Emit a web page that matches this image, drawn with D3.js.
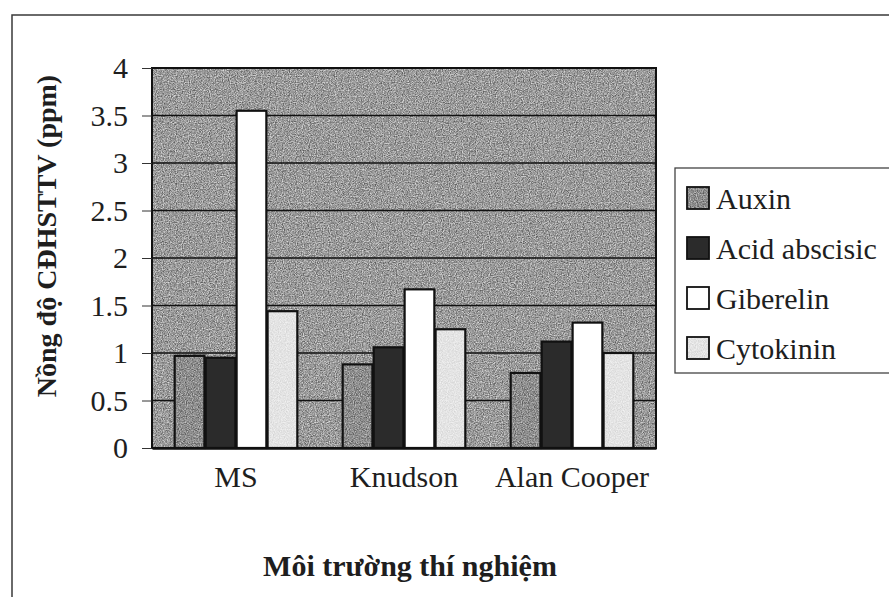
<!DOCTYPE html>
<html>
<head>
<meta charset="utf-8">
<script src="https://cdn.jsdelivr.net/npm/d3@7"></script>
<style>
  body { margin: 0; background: #fff; }
  svg { display: block; }
</style>
</head>
<body>
<div id="chart"></div>
<script>
// Data
const categories = ["MS", "Knudson", "Alan Cooper"];
const seriesNames = ["Auxin", "Acid abscisic", "Giberelin", "Cytokinin"];
const auxin = [0.97, 0.88, 0.79];
const acidAbscisic = [0.95, 1.06, 1.12];
const giberelin = [3.55, 1.67, 1.32];
const cytokinin = [1.44, 1.25, 1.00];
const yTicks = [0, 0.5, 1, 1.5, 2, 2.5, 3, 3.5, 4];

const seriesValues = [auxin, acidAbscisic, giberelin, cytokinin];
const fills = ["#979797", "#2b2b2b", "#ffffff", "#f1f1f1"];
const grains = ["grainStrong", null, null, "grainLight"];

const width = 889, height = 597;
const plot = { left: 152, right: 656, top: 68, bottom: 448 };
const font = "'Liberation Serif', 'Nimbus Roman', 'DejaVu Serif', serif";

const svg = d3.select("#chart").append("svg")
  .attr("width", width)
  .attr("height", height);

// noise filters to imitate the scanned stipple
const defs = svg.append("defs");
function grainFilter(id, amount, seed) {
  const f = defs.append("filter")
    .attr("id", id)
    .attr("x", -0.2).attr("y", -0.2).attr("width", 1.4).attr("height", 1.4)
    .attr("color-interpolation-filters", "sRGB");
  f.append("feTurbulence")
    .attr("type", "fractalNoise")
    .attr("baseFrequency", 0.85)
    .attr("numOctaves", 2)
    .attr("seed", seed)
    .attr("result", "t");
  f.append("feColorMatrix")
    .attr("in", "t")
    .attr("type", "matrix")
    .attr("values", "1.6 0 0 0 -0.3  1.6 0 0 0 -0.3  1.6 0 0 0 -0.3  0 0 0 0 1")
    .attr("result", "g");
  f.append("feComposite")
    .attr("in", "g").attr("in2", "SourceGraphic")
    .attr("operator", "in")
    .attr("result", "gc");
  f.append("feComposite")
    .attr("in", "SourceGraphic").attr("in2", "gc")
    .attr("operator", "arithmetic")
    .attr("k1", 0).attr("k2", 1 - amount).attr("k3", amount).attr("k4", 0);
}
grainFilter("grainStrong", 0.45, 4);
grainFilter("grainLight", 0.12, 9);
grainFilter("grainBg", 0.5, 2);

// outer frame (runs off the right and bottom of the scan)
svg.append("rect")
  .attr("x", 12).attr("y", 15)
  .attr("width", 900).attr("height", 600)
  .attr("fill", "none")
  .attr("stroke", "#3a3a3a")
  .attr("stroke-width", 1.5);

// scales
const x0 = d3.scaleBand()
  .domain(categories)
  .range([plot.left, plot.right])
  .paddingInner(0.27)
  .paddingOuter(0.135);

const x1 = d3.scaleBand()
  .domain(seriesNames)
  .range([0, x0.bandwidth()])
  .paddingInner(0.04);

const y = d3.scaleLinear()
  .domain([0, 4])
  .range([plot.bottom, plot.top]);

// plot background
svg.append("rect")
  .attr("x", plot.left).attr("y", plot.top)
  .attr("width", plot.right - plot.left)
  .attr("height", plot.bottom - plot.top)
  .attr("fill", "#b4b4b4")
  .attr("filter", "url(#grainBg)");

// horizontal gridlines
svg.selectAll("line.grid")
  .data(yTicks.slice(1))
  .enter().append("line")
  .attr("class", "grid")
  .attr("x1", plot.left).attr("x2", plot.right)
  .attr("y1", d => y(d)).attr("y2", d => y(d))
  .style("stroke", "#111")
  .style("stroke-width", 1.3);

// plot border
svg.append("rect")
  .attr("x", plot.left).attr("y", plot.top)
  .attr("width", plot.right - plot.left)
  .attr("height", plot.bottom - plot.top)
  .attr("fill", "none")
  .attr("stroke", "#111")
  .attr("stroke-width", 2);

// bars
const groups = svg.selectAll("g.cat")
  .data(categories)
  .enter().append("g")
  .attr("class", "cat")
  .attr("transform", d => "translate(" + x0(d) + ",0)");

groups.selectAll("rect")
  .data((c, i) => seriesNames.map((s, j) => ({ s, j, v: seriesValues[j][i] })))
  .enter().append("rect")
  .attr("x", d => x1(d.s))
  .attr("y", d => y(d.v))
  .attr("width", x1.bandwidth())
  .attr("height", d => y(0) - y(d.v))
  .attr("fill", d => fills[d.j])
  .attr("filter", d => grains[d.j] ? "url(#" + grains[d.j] + ")" : null);

// bar outlines drawn on top so the grain does not grey them
groups.selectAll("rect.outline")
  .data((c, i) => seriesNames.map((s, j) => ({ s, j, v: seriesValues[j][i] })))
  .enter().append("rect")
  .attr("class", "outline")
  .attr("x", d => x1(d.s))
  .attr("y", d => y(d.v))
  .attr("width", x1.bandwidth())
  .attr("height", d => y(0) - y(d.v))
  .attr("fill", "none")
  .attr("stroke", "#111")
  .attr("stroke-width", 2.2);

// y axis
const yAxis = d3.axisLeft(y)
  .tickValues(yTicks)
  .tickSize(10)
  .tickPadding(14)
  .tickFormat(d3.format("~g"));

const yg = svg.append("g")
  .attr("transform", "translate(" + plot.left + ",0)")
  .call(yAxis);
yg.select(".domain").remove();
yg.selectAll(".tick line").style("stroke", "#333").style("stroke-width", 1);
yg.selectAll(".tick text")
  .style("font-family", font)
  .style("font-size", "30px")
  .style("fill", "#1e1e1e");

// x axis
const xAxis = d3.axisBottom(x0)
  .tickSize(0)
  .tickPadding(18);

const xg = svg.append("g")
  .attr("transform", "translate(0," + plot.bottom + ")")
  .call(xAxis);
xg.select(".domain").style("stroke", "#111").style("stroke-width", 2.5);
xg.selectAll(".tick text")
  .style("font-family", font)
  .style("font-size", "30px")
  .style("fill", "#1e1e1e");

// axis titles
svg.append("text")
  .attr("x", 410).attr("y", 576)
  .attr("text-anchor", "middle")
  .style("font-family", font)
  .style("font-size", "30px")
  .style("font-weight", "bold")
  .style("fill", "#1e1e1e")
  .text("Môi trường thí nghiệm");

svg.append("text")
  .attr("transform", "translate(56,236) rotate(-90)")
  .attr("text-anchor", "middle")
  .style("font-family", font)
  .style("font-size", "28px")
  .style("font-weight", "bold")
  .style("fill", "#1e1e1e")
  .text("Nồng độ CĐHSTTV (ppm)");

// legend
svg.append("rect")
  .attr("x", 675).attr("y", 168)
  .attr("width", 240).attr("height", 205)
  .attr("fill", "#fff")
  .attr("stroke", "#444")
  .attr("stroke-width", 1.3);

const legendY = d3.scalePoint()
  .domain(seriesNames)
  .range([198, 348]);

const items = svg.selectAll("g.legend")
  .data(seriesNames)
  .enter().append("g")
  .attr("class", "legend")
  .attr("transform", d => "translate(687," + legendY(d) + ")");

items.append("rect")
  .attr("x", 0).attr("y", -11)
  .attr("width", 22).attr("height", 22)
  .attr("fill", (d, i) => fills[i])
  .attr("filter", (d, i) => grains[i] ? "url(#" + grains[i] + ")" : null);

items.append("rect")
  .attr("x", 0).attr("y", -11)
  .attr("width", 22).attr("height", 22)
  .attr("fill", "none")
  .attr("stroke", "#111")
  .attr("stroke-width", 1.8);

items.append("text")
  .attr("x", 29).attr("dy", "0.35em")
  .style("font-family", font)
  .style("font-size", "30px")
  .style("fill", "#1e1e1e")
  .text(d => d);
</script>
</body>
</html>
